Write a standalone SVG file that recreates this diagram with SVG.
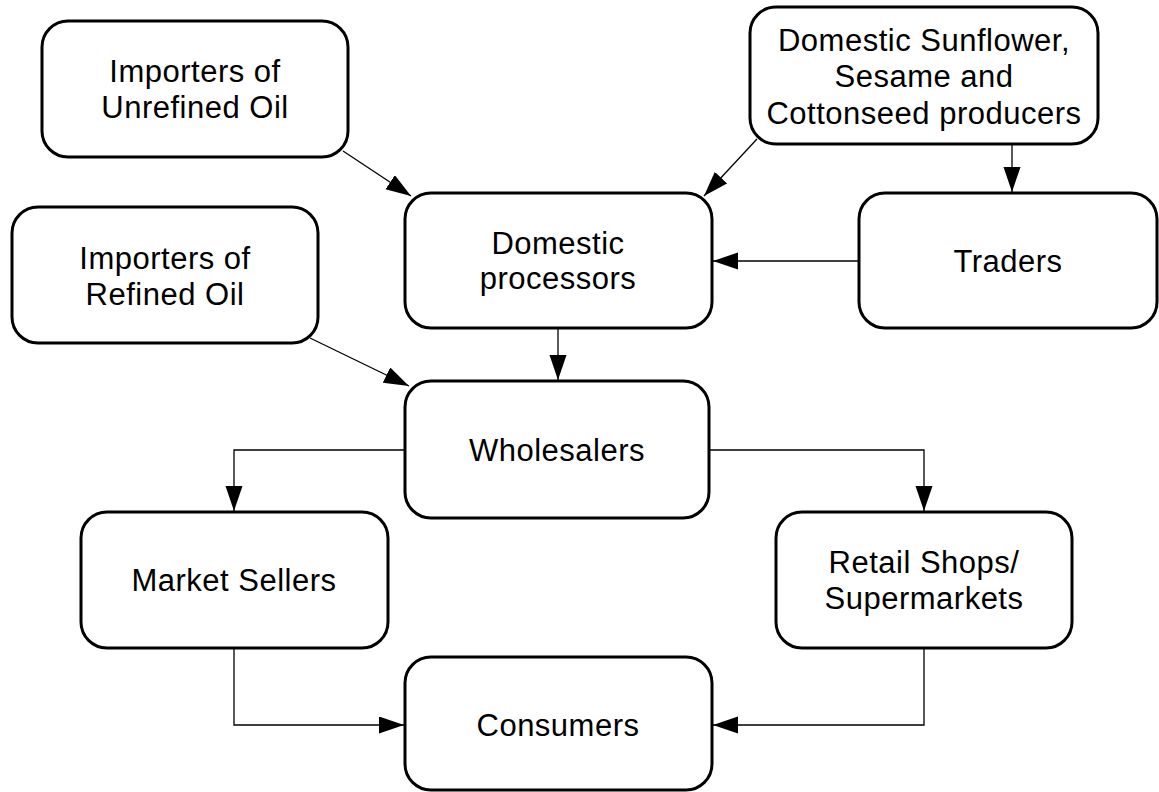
<svg xmlns="http://www.w3.org/2000/svg" width="1159" height="792" viewBox="0 0 1159 792">
<style>
.box{fill:#fff;stroke:#000;stroke-width:3}
.lbl{font-family:"Liberation Sans",Arial,sans-serif;font-size:31px;letter-spacing:0.5px;fill:#000;text-anchor:middle}
.con{fill:none;stroke:#000;stroke-width:1.3}
</style>
<defs>
<marker id="arr" markerUnits="userSpaceOnUse" markerWidth="26" markerHeight="18" refX="25" refY="8.5" orient="auto">
<path d="M0,0 L25,8.5 L0,17 z" fill="#000"/>
</marker>
</defs>
<rect width="1159" height="792" fill="#fff"/>
<g id="connectors">
<line class="con" x1="343" y1="151" x2="411" y2="196" marker-end="url(#arr)"/>
<line class="con" x1="757" y1="139" x2="704" y2="196" marker-end="url(#arr)"/>
<line class="con" x1="1012" y1="144" x2="1012" y2="192" marker-end="url(#arr)"/>
<line class="con" x1="859" y1="261" x2="713" y2="261" marker-end="url(#arr)"/>
<line class="con" x1="558" y1="328" x2="558" y2="380" marker-end="url(#arr)"/>
<line class="con" x1="310" y1="338" x2="409" y2="386" marker-end="url(#arr)"/>
<polyline class="con" points="405,450 234,450 234,511" marker-end="url(#arr)"/>
<polyline class="con" points="709,450 924,450 924,511" marker-end="url(#arr)"/>
<polyline class="con" points="234,648 234,725 404,725" marker-end="url(#arr)"/>
<polyline class="con" points="924,648 924,725 713,725" marker-end="url(#arr)"/>
</g>
<g id="n-unrefined"><rect class="box" x="42" y="21" width="306" height="136" rx="26"/><text class="lbl" x="195" y="82">Importers of</text><text class="lbl" x="195" y="118">Unrefined Oil</text></g>
<g id="n-sunflower"><rect class="box" x="750" y="7" width="348" height="137" rx="26"/><text class="lbl" x="924" y="51">Domestic Sunflower,</text><text class="lbl" x="924" y="87">Sesame and</text><text class="lbl" x="924" y="124">Cottonseed producers</text></g>
<g id="n-processors"><rect class="box" x="405" y="193" width="307" height="135" rx="26"/><text class="lbl" x="558" y="254">Domestic</text><text class="lbl" x="558" y="289">processors</text></g>
<g id="n-traders"><rect class="box" x="859" y="193" width="298" height="135" rx="26"/><text class="lbl" x="1008" y="272">Traders</text></g>
<g id="n-refined"><rect class="box" x="12" y="207" width="306" height="136" rx="26"/><text class="lbl" x="165" y="269">Importers of</text><text class="lbl" x="165" y="305">Refined Oil</text></g>
<g id="n-wholesalers"><rect class="box" x="405" y="381" width="304" height="137" rx="26"/><text class="lbl" x="557" y="461">Wholesalers</text></g>
<g id="n-market"><rect class="box" x="81" y="512" width="307" height="136" rx="26"/><text class="lbl" x="234" y="591">Market Sellers</text></g>
<g id="n-retail"><rect class="box" x="776" y="512" width="296" height="136" rx="26"/><text class="lbl" x="924" y="573">Retail Shops/</text><text class="lbl" x="924" y="609">Supermarkets</text></g>
<g id="n-consumers"><rect class="box" x="405" y="657" width="307" height="133" rx="26"/><text class="lbl" x="558" y="736">Consumers</text></g>
</svg>
